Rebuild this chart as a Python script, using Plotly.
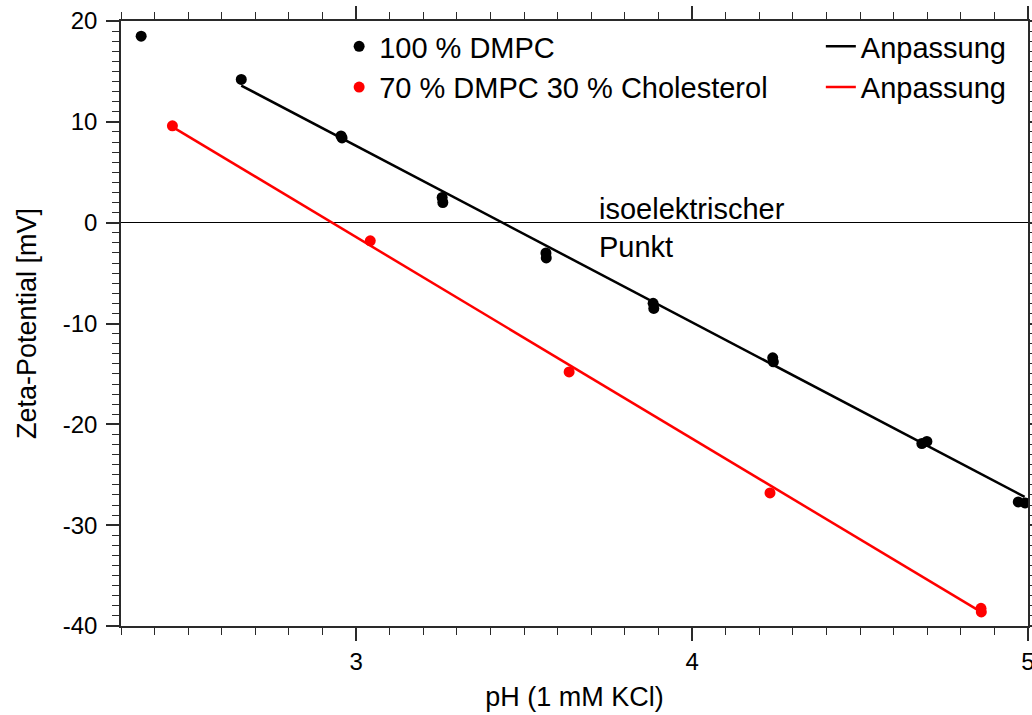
import plotly.graph_objects as go

# --- data ---
black_x = [2.36, 2.658, 2.955, 2.958, 3.256, 3.258, 3.565, 3.566, 3.884, 3.886,
           4.240, 4.242, 4.684, 4.699, 4.971, 4.991]
black_y = [18.5, 14.2, 8.6, 8.4, 2.5, 2.0, -3.0, -3.5, -8.0, -8.5,
           -13.4, -13.8, -21.9, -21.7, -27.7, -27.8]

red_x = [2.453, 3.042, 3.634, 4.232, 4.860, 4.861]
red_y = [9.6, -1.8, -14.8, -26.8, -38.25, -38.6]

black_fit_x = [2.658, 4.99]
black_fit_y = [13.6, -27.2]
red_fit_x = [2.453, 4.86]
red_fit_y = [9.5, -38.6]

x_tickvals = [3, 4, 5]
x_ticktext = ["3", "4", "5"]
y_tickvals = [-40, -30, -20, -10, 0, 10, 20]
y_ticktext = ["-40", "-30", "-20", "-10", "0", "10", "20"]

name_black = "100 % DMPC"
name_red = "70 % DMPC 30 % Cholesterol"
name_fit = "Anpassung"
x_title = "pH (1 mM KCl)"
y_title = "Zeta-Potential [mV]"
note_text = "isoelektrischer<br>Punkt"

FONT = "Liberation Sans, Arial, sans-serif"
AXC = "#2a2a2a"

fig = go.Figure()
fig.add_trace(go.Scatter(x=black_x, y=black_y, mode="markers", name=name_black,
                         marker=dict(color="black", size=11), legend="legend"))
fig.add_trace(go.Scatter(x=red_x, y=red_y, mode="markers", name=name_red,
                         marker=dict(color="#ff0000", size=11), legend="legend"))
fig.add_trace(go.Scatter(x=black_fit_x, y=black_fit_y, mode="lines", name=name_fit,
                         line=dict(color="black", width=2.5), legend="legend2"))
fig.add_trace(go.Scatter(x=red_fit_x, y=red_fit_y, mode="lines", name=name_fit,
                         line=dict(color="#ff0000", width=2.5), legend="legend2"))

axis_common = dict(
    showgrid=False, showline=True, linecolor=AXC, linewidth=1.5,
    mirror="allticks", ticks="outside", ticklen=13, tickwidth=1.5, tickcolor=AXC,
    tickfont=dict(family=FONT, size=24, color="black"), automargin=False,
    ticklabeloverflow="allow",
)

fig.update_xaxes(
    range=[2.3, 5], tickmode="array", tickvals=x_tickvals, ticktext=x_ticktext,
    zeroline=False,
    minor=dict(dtick=0.1, ticks="outside", ticklen=7, tickwidth=1.2, tickcolor=AXC),
    title=dict(text=x_title, font=dict(family=FONT, size=27, color="black"), standoff=14),
    **axis_common,
)
fig.update_yaxes(
    range=[-40, 20], tickmode="array", tickvals=y_tickvals, ticktext=y_ticktext,
    zeroline=True, zerolinecolor="black", zerolinewidth=1,
    minor=dict(tick0=0, dtick=1, ticks="outside", ticklen=7, tickwidth=1.2, tickcolor=AXC),
    ticklabelstandoff=4,
    title=dict(text=y_title, font=dict(family=FONT, size=27, color="black"), standoff=18),
    **axis_common,
)

fig.add_annotation(x=3.717, y=-0.5, xref="x", yref="y", text=note_text,
                   showarrow=False, xanchor="left", yanchor="middle", align="left",
                   font=dict(family=FONT, size=29, color="black"))

fig.update_layout(
    width=1032, height=715,
    margin=dict(l=121, r=4, t=21, b=89, autoexpand=False),
    plot_bgcolor="white", paper_bgcolor="white",
    font=dict(family=FONT, color="black"),
    legend=dict(x=0.2405, y=1.0, xanchor="left", yanchor="top",
                bgcolor="rgba(0,0,0,0)", font=dict(family=FONT, size=29),
                tracegroupgap=0),
    legend2=dict(x=0.7716, y=1.0, xanchor="left", yanchor="top",
                 bgcolor="rgba(0,0,0,0)", font=dict(family=FONT, size=29),
                 tracegroupgap=0),
)

# remove the browser's default body margin so the figure fills the window exactly
fig.write_html("out.html",
               config={"displayModeBar": False},
               post_script="document.body.style.margin='0';document.body.style.overflow='hidden';")
